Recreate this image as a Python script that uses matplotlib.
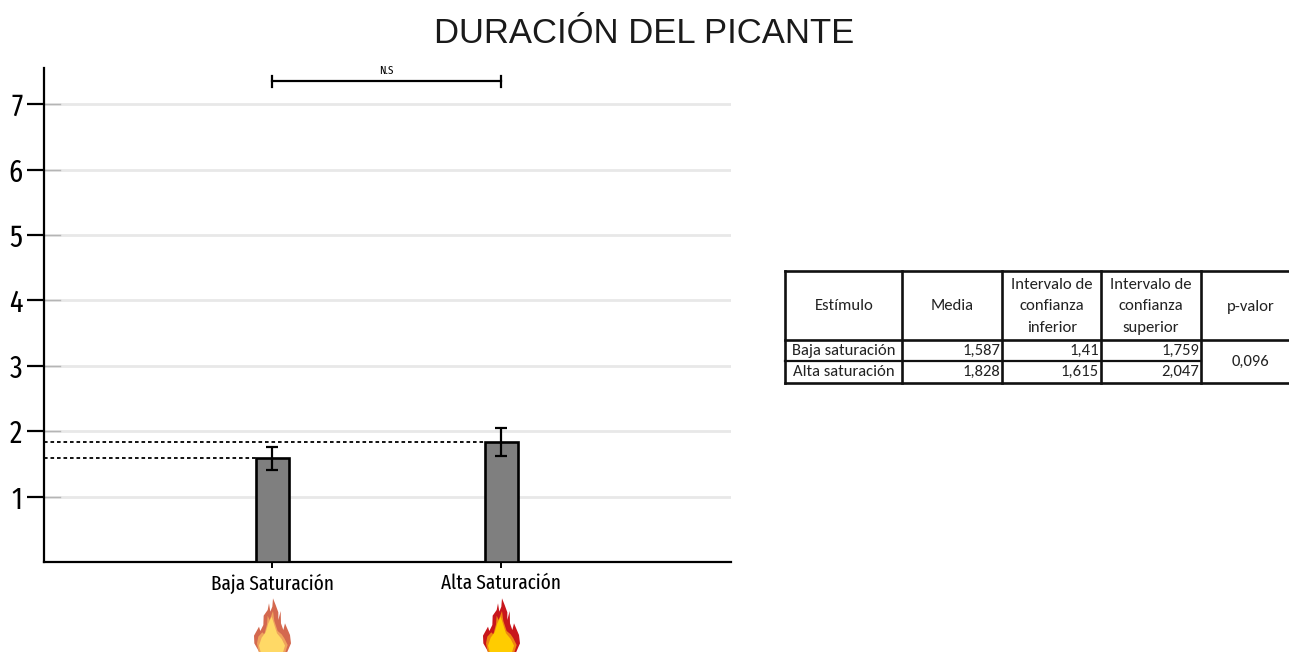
import matplotlib
matplotlib.use('Agg')
import matplotlib.pyplot as plt
from matplotlib.patches import Polygon
from matplotlib.font_manager import fontManager

categories = ['Baja Saturación', 'Alta Saturación']
medias = [1.587, 1.828]
ic_inf = [1.41, 1.615]
ic_sup = [1.759, 2.047]
yticks = [1, 2, 3, 4, 5, 6, 7]

headers = ['Estímulo', 'Media', 'Intervalo de\nconfianza\ninferior',
           'Intervalo de\nconfianza\nsuperior', 'p-valor']
row_names = ['Baja saturación', 'Alta saturación']
col_media = ['1,587', '1,828']
col_inf = ['1,41', '1,615']
col_sup = ['1,759', '2,047']
p_valor = '0,096'

W, H = 1289, 652
names = {f.name for f in fontManager.ttflist}
narrow = 'Fira Sans Extra Condensed' if 'Fira Sans Extra Condensed' in names else 'Roboto'
tabla = 'Carlito' if 'Carlito' in names else 'Lato'

fig = plt.figure(figsize=(W/100, H/100), dpi=100)
ax = fig.add_axes([44/W, 1-562/H, 687/W, 494/H])
ax.set_xlim(-0.996, 2.004)
ax.set_ylim(0, 494/65.4)

x = [0, 1]
for s in ['top', 'right']:
    ax.spines[s].set_visible(False)
for s in ['left', 'bottom']:
    ax.spines[s].set_linewidth(1.6)

ax.set_axisbelow(True)
ax.yaxis.grid(True, color='#e8e8e8', lw=2)
ax.set_yticks(yticks)
ax.set_xticks(x)
ax.set_xticklabels(categories, family=narrow, fontsize=15)
ax.tick_params(axis='y', length=12, width=1.6, labelsize=22, pad=3.5)
ax.tick_params(axis='x', length=4, width=1.4, pad=4.5)
for lab in ax.get_yticklabels():
    lab.set_family(narrow)

# marca gris corta al inicio de cada linea de la rejilla
for yt in yticks:
    ax.plot([-0.996, -0.926], [yt, yt], color='#b5b5b5', lw=1, zorder=2)

ax.bar(x, medias, width=0.144, color='#7f7f7f', edgecolor='k', lw=1.9, zorder=3)
err = [[m-l for m, l in zip(medias, ic_inf)], [u-m for m, u in zip(medias, ic_sup)]]
ax.errorbar(x, medias, yerr=err, fmt='none', ecolor='k', elinewidth=1.6,
            capsize=4.5, capthick=1.6, zorder=4)

# lineas punteadas hasta cada barra
for xi, m in zip(x, medias):
    ax.plot([-0.996, xi-0.072], [m, m], color='k', lw=1.3, ls=(0, (2, 1.6)), zorder=2)

# corchete de significancia
ax.plot([0, 1], [7.35, 7.35], color='k', lw=1.6, zorder=4)
ax.plot([0, 0], [7.27, 7.43], color='k', lw=1.6)
ax.plot([1, 1], [7.27, 7.43], color='k', lw=1.6)
ax.text(0.5, 7.43, 'N.S', ha='center', va='bottom', fontsize=8.5, family=narrow)

fig.text(644/W, 1-43/H, 'DURACIÓN DEL PICANTE', ha='center', va='baseline',
         fontsize=24.9, family='Liberation Sans', color='#1a1a1a')

# capa en pixeles para llamas y tabla
ov = fig.add_axes([0, 0, 1, 1], facecolor='none')
ov.set_xlim(0, W)
ov.set_ylim(H, 0)
ov.axis('off')


def flame(cx, colors):
    outer = [(45, 175), (28, 145), (27, 122), (42, 95), (46, 108), (55, 90), (56, 62), (68, 45),
             (72, 25), (76, 50), (82, 35), (84, 10), (92, 30), (100, 52), (100, 75), (107, 48),
             (108, 85), (115, 105), (120, 85), (135, 120), (138, 145), (125, 175)]
    mid = [(42, 175), (36, 145), (40, 125), (52, 112), (58, 118), (66, 88), (68, 62), (74, 75),
           (84, 48), (88, 78), (98, 108), (110, 118), (118, 130), (128, 150), (120, 175)]
    inner = [(48, 175), (42, 152), (50, 128), (62, 112), (70, 85), (80, 65), (88, 90), (96, 115),
             (110, 132), (120, 152), (113, 175)]
    for pts, c in zip([outer, mid, inner], colors):
        ov.add_patch(Polygon([(cx-27+a/3, 595+b/3) for a, b in pts], closed=True, fc=c, ec='none'))


flame(272, ['#d4694f', '#efa35c', '#ffd966'])
flame(501, ['#c8161c', '#ee8510', '#ffcc00'])

col_x = [785, 902, 1002, 1101, 1201, 1289]
row_y = [271, 340, 361, 383]
tf = dict(family=tabla, fontsize=12, color='#222222')

# la ultima columna esta cortada por el borde de la imagen
centros = [844, 952, 1052, 1151, 1251]
for cx, h in zip(centros, headers):
    ov.text(cx, (row_y[0]+row_y[1])/2+1, h, ha='center', va='center',
            linespacing=1.72, **tf)
for r in range(2):
    yc = (row_y[r+1]+row_y[r+2])/2
    ov.text(centros[0], yc, row_names[r], ha='center', va='center', **tf)
    for c, vals in enumerate([col_media, col_inf, col_sup]):
        ov.text(col_x[c+2]-2, yc, vals[r], ha='right', va='center', **tf)
ov.text(centros[4], (row_y[1]+row_y[3])/2, p_valor, ha='center', va='center', **tf)

for xv in col_x[:5]:
    ov.plot([xv, xv], [row_y[0], row_y[3]], color='#111111', lw=1.9)
for yv in [row_y[0], row_y[1], row_y[3]]:
    ov.plot([col_x[0], col_x[5]], [yv, yv], color='#111111', lw=1.9)
ov.plot([col_x[0], col_x[4]], [row_y[2], row_y[2]], color='#111111', lw=1.6)

fig.savefig('out.png', dpi=100)
